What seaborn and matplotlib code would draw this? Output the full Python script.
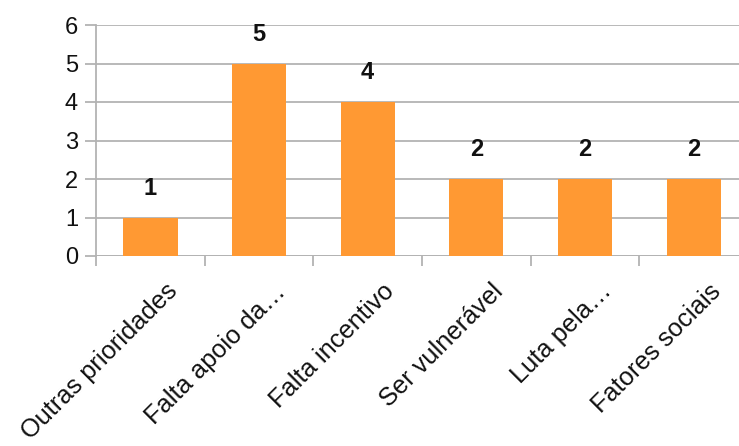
import matplotlib
matplotlib.use("Agg")
import matplotlib.pyplot as plt
import matplotlib.transforms as mtransforms
import seaborn as sns
import pandas as pd
import numpy as np

categories = ["Outras prioridades", "Falta apoio da…", "Falta incentivo",
              "Ser vulnerável", "Luta pela…", "Fatores sociais"]
values = [1, 5, 4, 2, 2, 2]
yticks = [0, 1, 2, 3, 4, 5, 6]

sns.set_theme(style="white")
plt.rcParams['font.family'] = ['Liberation Sans', 'DejaVu Sans']

df = pd.DataFrame({"cat": categories, "val": values})

fig = plt.figure(figsize=(7.39, 4.46), dpi=100)
ax = fig.add_axes([96/739, 190/446, 652/739, 231/446])

grid_c = "#b3b3b3"
sns.barplot(data=df, x="cat", y="val", color="#ff9933", saturation=1,
            width=0.5, ax=ax, zorder=3)
for p in ax.patches:
    p.set_edgecolor("none")

ax.set_ylim(0, 6)
ax.set_xlim(-0.5, len(categories) - 0.5)
ax.set_yticks(yticks)
ax.set_yticklabels([str(t) for t in yticks], fontsize=17, color="#111111")
ax.yaxis.grid(True, color=grid_c, linewidth=1.3, zorder=0)
ax.set_axisbelow(True)
ax.set_xlabel("")
ax.set_ylabel("")

for s in ["top", "right", "bottom"]:
    ax.spines[s].set_visible(False)
ax.spines["left"].set_color(grid_c)
ax.spines["left"].set_linewidth(1.3)
ax.axhline(0, color=grid_c, linewidth=1.3, zorder=1)

ax.tick_params(axis="y", length=8, width=1.3, color=grid_c, pad=5, left=True)
ax.set_xticks(np.arange(len(categories)))
ax.set_xticks(np.arange(-0.5, len(categories), 1), minor=True)
ax.tick_params(axis="x", which="major", length=0, pad=2, bottom=True)
ax.tick_params(axis="x", which="minor", length=7, width=1.3, color=grid_c, bottom=True)

ax.set_xticklabels(categories, fontsize=18.3, color="#111111", rotation=45,
                   ha="right", va="center", rotation_mode="anchor")
offset = mtransforms.ScaledTranslation(23/100, -29/100, fig.dpi_scale_trans)
for lbl in ax.get_xticklabels():
    lbl.set_transform(lbl.get_transform() + offset)

for i, v in enumerate(values):
    ax.annotate(str(v), (i, v), xytext=(0, 21), textcoords="offset points",
                ha="center", va="center", fontsize=17, fontweight="bold",
                color="#111111")

fig.savefig("out.png", dpi=100)
